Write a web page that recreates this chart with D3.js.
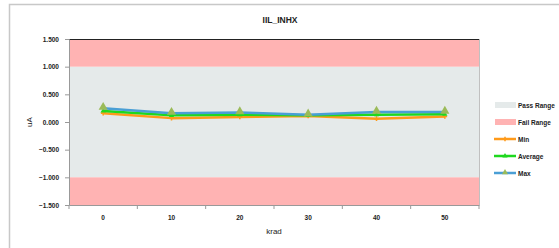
<!DOCTYPE html>
<html><head><meta charset="utf-8">
<script src="https://cdn.jsdelivr.net/npm/d3@7"></script>
<style>body{margin:0;background:#fff}svg{display:block}text{font-family:"Liberation Sans",Arial,sans-serif}</style>
</head><body><svg id="c" width="559" height="248"></svg>
<script>
const categories = ["0","10","20","30","40","50"];
const minVals = [0.16, 0.07, 0.09, 0.11, 0.06, 0.10];
const avgVals = [0.20, 0.12, 0.13, 0.12, 0.13, 0.14];
const maxVals = [0.25, 0.16, 0.17, 0.13, 0.18, 0.18];
const yTicks = [-1.5, -1.0, -0.5, 0, 0.5, 1.0, 1.5];
const passRange = [-1.0, 1.0];
const failRanges = [[1.0, 1.5], [-1.5, -1.0]];
const series = [
  {name:"Min", values:minVals, color:"#ff9a1a", marker:"plus"},
  {name:"Average", values:avgVals, color:"#1ed81e", marker:"tri-small"},
  {name:"Max", values:maxVals, color:"#4a9fd5", marker:"tri"}
];

const svg = d3.select("#c");
svg.append("rect").attr("x",9.5).attr("y",4.5).attr("width",560).attr("height",250)
  .attr("fill","#fff").attr("stroke","#c8c8c8").attr("stroke-width",1.5);

const L=69, R=479, T=39, B=205;
const x = d3.scaleBand().domain(categories).range([L,R]);
const y = d3.scaleLinear().domain([-1.5,1.5]).range([B,T]);

svg.append("rect").attr("x",L).attr("width",R-L).attr("y",y(passRange[1])).attr("height",y(passRange[0])-y(passRange[1])).attr("fill","#e5eaea");
failRanges.forEach(r=>{
  svg.append("rect").attr("x",L).attr("width",R-L).attr("y",y(r[1])).attr("height",y(r[0])-y(r[1])).attr("fill","#ffb3b3");
});
svg.append("line").attr("x1",L).attr("x2",R).attr("y1",T+0.5).attr("y2",T+0.5).attr("stroke","#222").attr("stroke-width",1);
svg.append("line").attr("x1",R+0.5).attr("x2",R+0.5).attr("y1",T).attr("y2",B).attr("stroke","#c0c0c0").attr("stroke-width",1);

const yAxis = svg.append("g").attr("transform",`translate(${L},0)`)
  .call(d3.axisLeft(y).tickValues(yTicks).tickFormat(d3.format(".3f")).tickSize(4).tickPadding(6));
const xAxis = svg.append("g").attr("transform",`translate(0,${B})`)
  .call(d3.axisBottom(x).tickSize(0).tickPadding(10));
const bounds = categories.map(c=>x(c)).concat([R]);
xAxis.selectAll(".bnd").data(bounds).enter().append("line").attr("class","bnd")
  .attr("x1",d=>d).attr("x2",d=>d).attr("y1",0).attr("y2",4).attr("stroke","#999");
[yAxis,xAxis].forEach(a=>{
  a.select(".domain").attr("stroke","#999");
  a.selectAll(".tick line").attr("stroke","#999");
  a.selectAll("text").attr("font-size",6.5).attr("font-weight","bold").attr("fill","#222");
});

const line = d3.line().x((d,i)=>x(categories[i])+x.bandwidth()/2).y(d=>y(d));
function marker(g, type, color, cx, cy, legend){
  if(type==="tri"){
    g.append("path").attr("d",d3.symbol(d3.symbolTriangle, legend?16:36)()).attr("transform",`translate(${cx},${cy-1})`).attr("fill","#9bbb59");
  } else if(type==="tri-small"){
    g.append("path").attr("d",d3.symbol(d3.symbolTriangle, 12)()).attr("transform",`translate(${cx},${cy})`).attr("fill",color);
  } else {
    g.append("path").attr("d",d3.symbol(d3.symbolCross, 12)()).attr("transform",`translate(${cx},${cy})`).attr("fill",color);
  }
}
series.forEach(s=>{
  svg.append("path").datum(s.values).attr("d",line).attr("fill","none").attr("stroke",s.color).attr("stroke-width",2.5).attr("stroke-linejoin","round");
});
series.forEach(s=>{
  const g = svg.append("g");
  s.values.forEach((v,i)=>marker(g,s.marker,s.color,x(categories[i])+x.bandwidth()/2,y(v)));
});

svg.append("text").attr("x",280).attr("y",23).attr("text-anchor","middle").attr("font-size",8.5).attr("font-weight","bold").attr("fill","#222").text("IIL_INHX");
svg.append("text").attr("transform","translate(32,122) rotate(-90)").attr("text-anchor","middle").attr("font-size",8).attr("fill","#222").text("uA");
svg.append("text").attr("x",274).attr("y",234).attr("text-anchor","middle").attr("font-size",8).attr("fill","#222").text("krad");

const lg = svg.append("g");
const legendItems = [
  {name:"Pass Range", type:"rect", color:"#e5eaea", y:105},
  {name:"Fail Range", type:"rect", color:"#ffb3b3", y:122},
  {name:"Min", type:"line", s:series[0], y:139},
  {name:"Average", type:"line", s:series[1], y:156},
  {name:"Max", type:"line", s:series[2], y:173}
];
legendItems.forEach(it=>{
  if(it.type==="rect"){
    lg.append("rect").attr("x",495).attr("y",it.y-3).attr("width",21).attr("height",6).attr("fill",it.color);
  } else {
    lg.append("line").attr("x1",494).attr("x2",516).attr("y1",it.y).attr("y2",it.y).attr("stroke",it.s.color).attr("stroke-width",2.5);
    marker(lg,it.s.marker,it.s.color,505,it.y+ (it.s.marker==="tri"?0.5:0),true);
  }
  lg.append("text").attr("x",518).attr("y",it.y+2.5).attr("font-size",6.5).attr("font-weight","bold").attr("fill","#222").text(it.name);
});
</script></body></html>
